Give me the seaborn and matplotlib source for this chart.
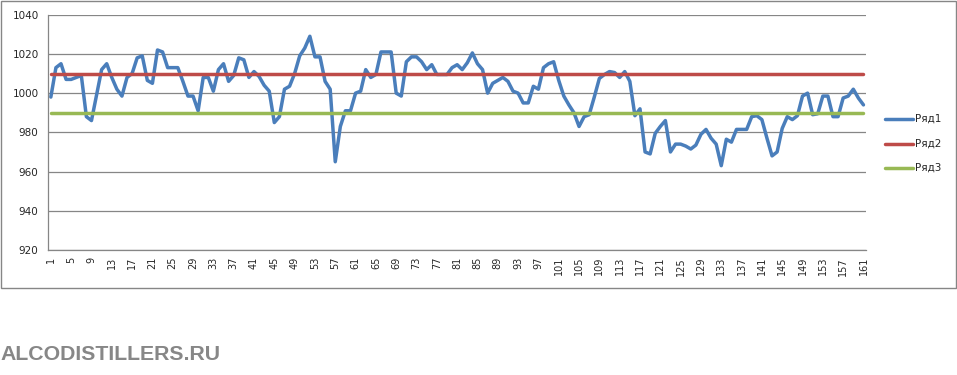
import matplotlib
matplotlib.use("Agg")
import matplotlib.pyplot as plt
import seaborn as sns
import pandas as pd
import numpy as np
from matplotlib.patches import Rectangle
from matplotlib.ticker import FixedLocator

series1 = [998, 1013, 1015, 1007, 1007, 1008, 1009, 988, 986, 999,
           1012, 1015, 1008, 1002, 998.5, 1008, 1010, 1018, 1019, 1006.5,
           1005, 1022, 1021, 1013, 1013, 1013, 1006, 998.5, 998.5, 991,
           1008, 1008, 1001, 1012, 1015, 1006, 1009, 1018, 1017, 1008,
           1011, 1008.5, 1004, 1001, 985, 988, 1002, 1003.5, 1010, 1019,
           1023, 1029, 1018.5, 1018.5, 1006, 1002, 965, 983, 991, 991,
           1000, 1001, 1012, 1008, 1009.5, 1021, 1021, 1021, 1000, 998.5,
           1016, 1018.5, 1018.5, 1016, 1012, 1014.5, 1009.5, 1009.5, 1009.5, 1013,
           1014.5, 1012, 1015.5, 1020.5, 1015, 1012, 1000, 1005, 1006.5, 1008,
           1006, 1001, 1000, 995, 995, 1003.5, 1002, 1013, 1015, 1016,
           1006.5, 998.5, 994, 990, 983, 988, 989, 998, 1007.5, 1009.5,
           1011, 1010.5, 1008, 1011, 1006, 988.5, 992, 970, 969, 979.5,
           983, 986, 970, 974, 974, 973, 971.5, 973.5, 979, 981.5,
           977, 974, 963, 976.5, 975, 981.5, 981.5, 981.5, 988, 988.5,
           986.5, 977, 968, 970, 982, 988, 986.5, 988.5, 998.5, 1000,
           989, 989.5, 998.5, 998.5, 988, 988, 997.5, 998.5, 1002, 997.5,
           994]
series2 = [1010] * 161
series3 = [990] * 161
series_names = ["Ряд1", "Ряд2", "Ряд3"]
categories = list(range(1, 162))
y_ticks = [920, 940, 960, 980, 1000, 1020, 1040]
x_tick_labels = list(range(1, 162, 4))
watermark = "ALCODISTILLERS.RU"

sns.set_style("white")
plt.rcParams['font.family'] = ['DejaVu Sans']

colors = ["#4A7EBB", "#BE4B48", "#98B954"]

df = pd.DataFrame({
    "cat": categories * 3,
    "value": series1 + series2 + series3,
    "series": [series_names[0]] * 161 + [series_names[1]] * 161 + [series_names[2]] * 161,
})

fig = plt.figure(figsize=(9.57, 3.75), dpi=100)
ax = fig.add_axes([48.3 / 957, 1 - 250 / 375, (866 - 48.3) / 957, (250 - 14.7) / 375])

sns.lineplot(data=df, x="cat", y="value", hue="series", palette=colors,
             linewidth=2.5, ax=ax, legend=False, sort=False)

ax.set_xlim(0.5, 161.5)
ax.set_ylim(920, 1040)
ax.set_yticks(y_ticks)
ax.set_yticklabels([str(v) for v in y_ticks], fontsize=7.5)
ax.set_xticks(x_tick_labels)
ax.set_xticklabels([str(v) for v in x_tick_labels], rotation=90, fontsize=7)
ax.xaxis.set_minor_locator(FixedLocator(np.arange(0.5, 162, 1)))
ax.tick_params(axis='x', which='major', length=0, pad=5)
ax.tick_params(axis='x', which='minor', length=4, color="#868686", width=0.8, direction='out')
ax.tick_params(axis='y', which='major', length=4, color="#868686", width=0.8, pad=3)
ax.set_xlabel("")
ax.set_ylabel("")
ax.grid(axis='y', color="#868686", linewidth=0.9)
ax.set_axisbelow(True)
for s in ["top", "right"]:
    ax.spines[s].set_visible(False)
for s in ["left", "bottom"]:
    ax.spines[s].set_color("#868686")
    ax.spines[s].set_linewidth(0.9)

# Legend drawn manually in figure coordinates
for i, (name, c) in enumerate(zip(series_names, colors)):
    yy = 1 - (119 + i * 24.5) / 375
    fig.add_artist(plt.Line2D([885 / 957, 913 / 957], [yy, yy], color=c, linewidth=2.5,
                              transform=fig.transFigure))
    fig.text(915 / 957, yy, name, fontsize=7.5, va='center', ha='left')

# Chart frame
fig.add_artist(Rectangle((0.5 / 957, 1 - 288 / 375), 955.5 / 957, 287.5 / 375,
                         transform=fig.transFigure, fill=False,
                         edgecolor="#868686", linewidth=1.0))

fig.text(0 / 957, 1 - 354 / 375, watermark, fontsize=15.3, fontweight='bold',
         color="#878787", family=['Liberation Sans Narrow', 'Liberation Sans', 'DejaVu Sans'],
         va='center', ha='left')

fig.savefig("out.png", dpi=100)
